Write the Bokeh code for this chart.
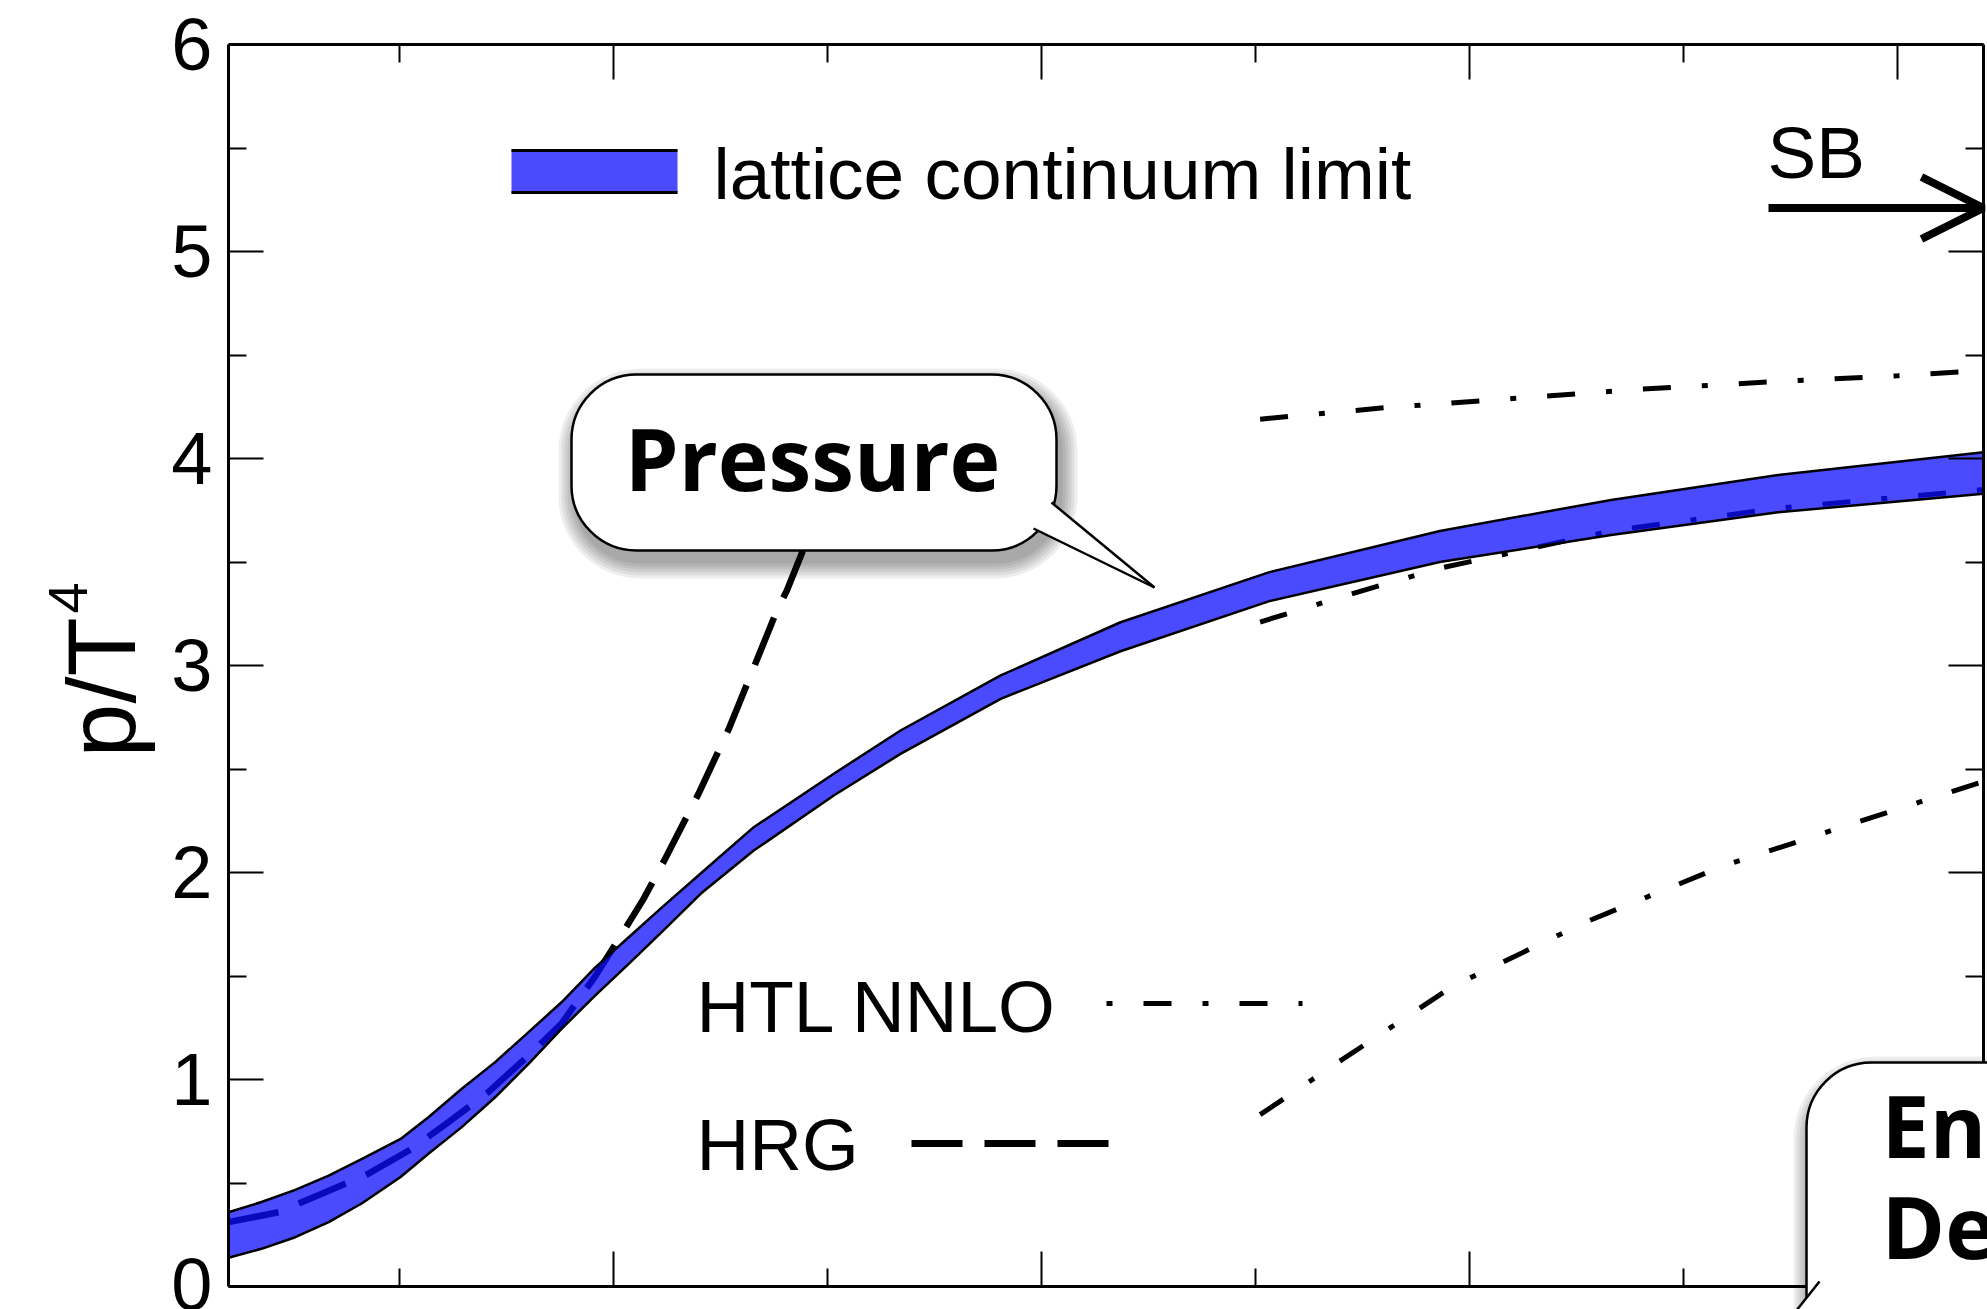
import math
from bokeh.plotting import figure
from bokeh.models import (FixedTicker, LinearAxis, BoxAnnotation, Label, Arrow,
                          OpenHead, PolyAnnotation, Range1d)
from bokeh.embed import file_html
from bokeh.resources import INLINE

# ---------------- data ----------------
# lattice continuum limit band (p/T^4), T in MeV
T_band = [110, 117.7, 125.6, 133.4, 141.2, 150.2, 156.7, 164.5, 172.3, 180.1, 187.8,
          195.7, 203.5, 211.2, 220.3, 232.7, 251.4, 267.0, 290.4, 318.4, 353.0, 393.0,
          433.0, 472.0, 520.0]
p_upper = [0.359, 0.408, 0.467, 0.536, 0.617, 0.713, 0.818, 0.955, 1.084, 1.229, 1.373,
           1.542, 1.687, 1.830, 1.995, 2.219, 2.477, 2.686, 2.952, 3.209, 3.45, 3.65,
           3.80, 3.92, 4.03]
p_lower = [0.139, 0.182, 0.238, 0.311, 0.402, 0.529, 0.641, 0.770, 0.914, 1.076, 1.245,
           1.406, 1.559, 1.712, 1.897, 2.106, 2.372, 2.573, 2.839, 3.069, 3.31, 3.50,
           3.63, 3.74, 3.83]

# hadron resonance gas
T_hrg = [110, 121.7, 131.8, 142.7, 152.8, 161.4, 170.7, 179.7, 187.8, 195.7, 200.3,
         206.9, 211.6, 219.8, 226.8, 233.5, 238.2, 240.4, 243.9, 248.0]
p_hrg = [0.311, 0.359, 0.448, 0.545, 0.665, 0.794, 0.939, 1.108, 1.27, 1.50, 1.65,
         1.87, 2.05, 2.38, 2.69, 3.03, 3.27, 3.36, 3.54, 3.78]

# HTL NNLO (three scale choices)
T_htl_hi = [351, 380, 410, 440, 470, 500, 520]
p_htl_hi = [4.19, 4.245, 4.29, 4.335, 4.37, 4.40, 4.425]
T_htl_mid = [351, 373, 393, 433, 472, 520]
p_htl_mid = [3.21, 3.35, 3.47, 3.65, 3.76, 3.85]
T_htl_lo = [351, 369, 396, 427, 459, 490, 520]
p_htl_lo = [0.83, 1.08, 1.45, 1.76, 2.03, 2.24, 2.44]

SB = 5.21

x_major = [200, 300, 400, 500]
x_minor = [150, 250, 350, 450]
y_major = [0, 1, 2, 3, 4, 5, 6]
y_minor = [0.5, 1.5, 2.5, 3.5, 4.5, 5.5]

X0, X1 = 110, 520
Y0, Y1 = 0, 6

# ---------------- layout helpers (canvas pixels -> data) ----------------
W, H = 1987, 1309
FL, FR, FT, FB = 228, 1983, 44, 1286          # where the plotting box sits
def dx(px):
    return X0 + (px - FL) * (X1 - X0) / (FR - FL)
def dy(py):
    return Y0 + (FB - py) * (Y1 - Y0) / (FB - FT)

FONT = "Liberation Sans"
BOLD = "Open Sans"
DESC = 0.212        # descent of Liberation Sans (em)
BDESC = 0.293       # descent of Open Sans (em)
BAND = "#0c0cff"
BAND_ALPHA = 0.745

p = figure(width=W, height=H, x_range=Range1d(dx(0), dx(W)), y_range=Range1d(dy(H), dy(0)),
           output_backend="svg", toolbar_location=None, title=None,
           x_axis_location=None, y_axis_location=None, min_border=0,
           background_fill_color="white", border_fill_color="white")
p.outline_line_color = None
p.grid.visible = False

def make_axis(loc, bounds, ticks, minor, labels):
    ax = LinearAxis(fixed_location=loc, bounds=bounds,
                    ticker=FixedTicker(ticks=ticks, minor_ticks=minor))
    ax.axis_line_width = 3
    ax.axis_line_color = "black"
    ax.major_tick_in = 35
    ax.major_tick_out = 0
    ax.minor_tick_in = 18
    ax.minor_tick_out = 0
    ax.major_tick_line_width = 2
    ax.minor_tick_line_width = 2
    ax.major_tick_line_color = "black"
    ax.minor_tick_line_color = "black"
    if labels:
        ax.major_label_text_font = FONT
        ax.major_label_text_font_size = "74px"
        ax.major_label_text_color = "black"
        ax.major_label_standoff = 16
    else:
        ax.major_label_overrides = {t: "" for t in ticks}
        ax.major_label_standoff = 0
        ax.major_label_text_font_size = "1px"
    return ax

p.add_layout(make_axis(X0, (Y0, Y1), y_major, y_minor, True), "left")
p.add_layout(make_axis(X1, (Y0, Y1), y_major, y_minor, False), "right")
p.add_layout(make_axis(Y0, (X0, X1), x_major, x_minor, False), "below")
p.add_layout(make_axis(Y1, (X0, X1), x_major, x_minor, False), "above")

# ---------------- curves ----------------
htl_dash = "28 31 6 31"
p.line(T_htl_hi, p_htl_hi, line_color="black", line_width=5, line_dash=htl_dash)
p.line(T_htl_mid, p_htl_mid, line_color="black", line_width=5, line_dash=htl_dash)
p.line(T_htl_lo, p_htl_lo, line_color="black", line_width=5, line_dash=htl_dash)
p.line(T_hrg, p_hrg, line_color="black", line_width=6.5, line_dash="51 22")

p.varea(x=T_band, y1=p_lower, y2=p_upper, fill_color=BAND, fill_alpha=BAND_ALPHA)
p.line(T_band, p_upper, line_color="black", line_width=2.5, line_join="round")
p.line(T_band, p_lower, line_color="black", line_width=2.5, line_join="round")

# ---------------- text helper ----------------
def text(px, base_py, s, size, bold=False, align="left", angle=0.0, level="annotation"):
    """Place text so that its alphabetic baseline lands on base_py (px for rotated)."""
    fnt = BOLD if bold else FONT
    d = (BDESC if bold else DESC) * size
    if angle:
        x, y = dx(px + d), dy(base_py)
    else:
        x, y = dx(px), dy(base_py + d)
    p.add_layout(Label(x=x, y=y, text=s, text_font=fnt,
                       text_font_style="bold" if bold else "normal",
                       text_font_size=f"{size}px", text_color="black",
                       text_align=align, text_baseline="bottom", angle=angle, level=level))

# ---------------- legend (manual) ----------------
p.add_layout(BoxAnnotation(left=dx(511), right=dx(677), top=dy(149), bottom=dy(193),
                           fill_color=BAND, fill_alpha=BAND_ALPHA, line_color=None))
for yy in (150, 192):
    p.add_layout(Arrow(end=None, x_start=dx(511), y_start=dy(yy), x_end=dx(677), y_end=dy(yy),
                       line_color="black", line_width=3))
text(713, 198, "lattice continuum limit", 73)

text(696, 1031, "HTL NNLO", 73)
p.add_layout(Arrow(end=None, x_start=dx(1106), y_start=dy(1003), x_end=dx(1302), y_end=dy(1003),
                   line_color="black", line_width=5, line_dash="6 31 28 31"))
text(696, 1169, "HRG", 73)
p.add_layout(Arrow(end=None, x_start=dx(911), y_start=dy(1143), x_end=dx(1109), y_end=dy(1143),
                   line_color="black", line_width=7, line_dash="51 22"))

# SB arrow
text(1767, 177, "SB", 73)
p.add_layout(Arrow(x_start=dx(1768), y_start=SB, x_end=X1, y_end=SB,
                   line_color="black", line_width=8,
                   end=OpenHead(size=62, line_width=8, line_color="black")))

# y-axis title p/T^4 (rotated; baseline is the vertical line x = px)
p.add_layout(Label(x=dx(135 + DESC * 97), y=dy(757), text="p/T", angle=math.pi / 2,
                   text_font=FONT, text_font_size="97px", text_color="black",
                   text_align="left", text_baseline="bottom"))
p.add_layout(Label(x=dx(75 + DESC * 56), y=dy(613), text="4", angle=math.pi / 2,
                   text_font=FONT, text_font_size="56px", text_color="black",
                   text_align="left", text_baseline="bottom"))

# ---------------- speech bubbles ----------------
def shadow(l, r, t, b, radius):
    for e in (2, 5, 8, 11, 14, 17):
        p.add_layout(BoxAnnotation(left=dx(l - e + 4), right=dx(r + e + 4),
                                   top=dy(t - e + 11), bottom=dy(b + e + 11),
                                   fill_color="black", fill_alpha=0.065, line_color=None,
                                   border_radius=radius + e, level="overlay"))

# Pressure bubble
shadow(571, 1056, 374, 550, 65)
p.add_layout(BoxAnnotation(left=dx(571), right=dx(1056), top=dy(374), bottom=dy(550),
                           fill_color="white", fill_alpha=1.0, line_color="black",
                           line_width=2.5, line_alpha=1.0, border_radius=65, level="overlay"))
A = (1051, 502); B = (1033, 528); C = (1154, 587)
p.add_layout(PolyAnnotation(xs=[dx(1040), dx(A[0]), dx(C[0]), dx(B[0]), dx(1025)],
                            ys=[dy(495), dy(A[1]), dy(C[1]), dy(B[1]), dy(520)],
                            fill_color="white", fill_alpha=1.0, line_color=None, level="overlay"))
for P0 in (A, B):
    p.add_layout(Arrow(end=None, x_start=dx(P0[0]), y_start=dy(P0[1]), x_end=dx(C[0]),
                       y_end=dy(C[1]), line_color="black", line_width=2.5, level="overlay"))
text(812, 490, "Pressure", 86, bold=True, align="center", level="overlay")

# Energy Density bubble (runs off the edge of the picture)
shadow(1806, 2150, 1062, 1420, 65)
p.add_layout(BoxAnnotation(left=dx(1806), right=dx(2150), top=dy(1062), bottom=dy(1420),
                           fill_color="white", fill_alpha=1.0, line_color="black",
                           line_width=2.5, line_alpha=1.0, border_radius=65, level="overlay"))
p.add_layout(PolyAnnotation(xs=[dx(1819), dx(1788), dx(1870), dx(1870)],
                            ys=[dy(1281), dy(1320), dy(1320), dy(1281)],
                            fill_color="white", fill_alpha=1.0, line_color=None, level="overlay"))
p.add_layout(Arrow(end=None, x_start=dx(1819), y_start=dy(1281), x_end=dx(1788), y_end=dy(1320),
                   line_color="black", line_width=2.5, level="overlay"))
text(1881, 1157, "Energy", 86, bold=True, level="overlay")
text(1881, 1258, "Density", 86, bold=True, level="overlay")

open("out.html", "w").write(file_html(p, INLINE))
